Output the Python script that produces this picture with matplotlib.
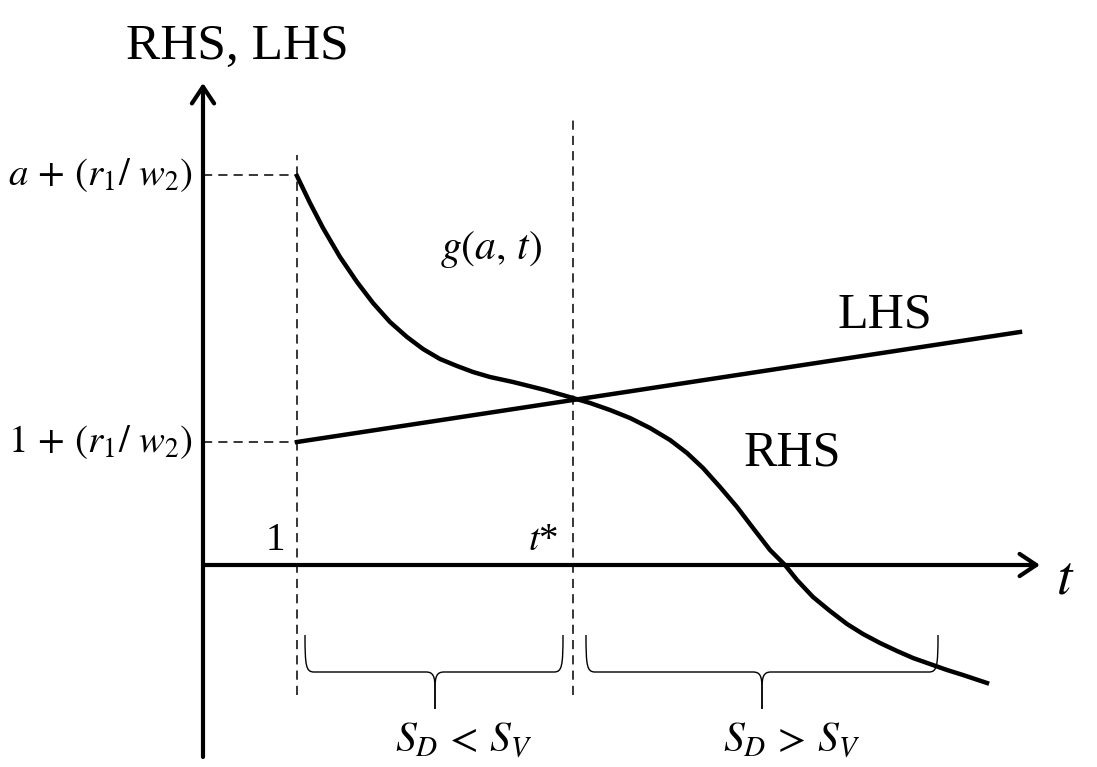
import matplotlib.pyplot as plt
from matplotlib.path import Path
from matplotlib.patches import PathPatch

plt.rcParams['font.family'] = ['Liberation Serif', 'DejaVu Serif']
plt.rcParams['mathtext.fontset'] = 'stix'

# schematic coordinates: origin where the axes cross, y upwards
rhs_t = [94, 107, 120, 137, 154, 170, 187, 204, 220, 237, 254, 270, 287, 310,
         342, 370, 387, 407, 427, 447, 467, 484, 500, 517, 534, 550, 567, 582,
         594, 610, 627, 644, 660, 677, 694, 710, 727, 744, 760, 784]
rhs_v = [389, 362, 337, 308, 283, 262, 243, 228, 216, 206, 199, 193, 188, 183,
         175, 167, 162, 155, 147, 137, 125, 112, 97, 78, 58, 37, 15, 0,
         -15, -32, -46, -59, -69, -78, -86, -93, -99, -105, -110, -118]
lhs_t = [94, 817]
lhs_v = [123, 233]

t_one = 94
t_star = 370
level_high = 390   # a + (r1/w2)
level_low = 123    # 1 + (r1/w2)

# brace spans (left end, right end, tip)
braces = [(102, 360, 232), (383, 735, 559)]
brace_labels = [r'$S_D\,<\,S_V$', r'$S_D\,>\,S_V$']


def draw_brace(ax, x0, x1, xm, ytop=-70, ymid=-107, ytip=-144):
    for a, sgn in ((x0, 1), (x1, -1)):
        verts = [(a, ytop), (a, ymid + 6), (a + sgn * 1, ymid), (a + sgn * 9, ymid),
                 (xm - sgn * 9, ymid),
                 (xm - sgn * 2, ymid), (xm, ymid - 4), (xm, ymid - 16),
                 (xm, ytip)]
        codes = [Path.MOVETO, Path.CURVE4, Path.CURVE4, Path.CURVE4,
                 Path.LINETO,
                 Path.CURVE4, Path.CURVE4, Path.CURVE4,
                 Path.LINETO]
        ax.add_patch(PathPatch(Path(verts, codes), fill=False, lw=1.0,
                               edgecolor='black'))


fig = plt.figure(figsize=(10.97, 7.67), dpi=100)
ax = fig.add_axes([0, 0, 1, 1])
ax.set_xlim(-203, 894)
ax.set_ylim(-202, 565)
ax.axis('off')

# axes with open arrow heads
arrow = dict(arrowstyle='->,head_length=0.6,head_width=0.4', lw=3,
             color='black', shrinkA=0, shrinkB=0, mutation_scale=20)
ax.annotate('', xy=(0, 482), xytext=(0, -192), arrowprops=arrow)
ax.annotate('', xy=(837, 0), xytext=(0, 0), arrowprops=arrow)

# dashed guides
dash = dict(color='black', lw=1.1, dashes=(6, 4))
ax.plot([t_one, t_one], [-130, 410], **dash)
ax.plot([t_star, t_star], [-130, 445], **dash)
ax.plot([0, t_one], [level_high, level_high], **dash)
ax.plot([0, t_one], [level_low, level_low], **dash)

# curves
ax.plot(rhs_t, rhs_v, color='black', lw=3.2, solid_joinstyle='round')
ax.plot(lhs_t, lhs_v, color='black', lw=3.2)

for (x0, x1, xm), lab in zip(braces, brace_labels):
    draw_brace(ax, x0, x1, xm)
    ax.text((x0 + x1) / 2 + 30, -176, lab, fontsize=30, ha='center', va='center')

# labels
ax.text(34, 518, 'RHS, LHS', fontsize=37, ha='center', va='center')
ax.text(682, 250, 'LHS', fontsize=36, ha='center', va='center')
ax.text(589, 112, 'RHS', fontsize=36, ha='center', va='center')
ax.text(288, 315, r'$g(a,\,t)$', fontsize=30, ha='center', va='center')
ax.text(-10, level_high, r'$a\,+\,(r_1/\ w_2)$', fontsize=28, ha='right', va='center')
ax.text(-10, level_low, r'$1\,+\,(r_1/\ w_2)$', fontsize=28, ha='right', va='center')
ax.text(72, 25, '1', fontsize=28, ha='center', va='center')
ax.text(340, 25, r'$t$*', fontsize=28, ha='center', va='center')
ax.text(862, -15, r'$t$', fontsize=40, ha='center', va='center')

fig.savefig('out.png', dpi=100)
